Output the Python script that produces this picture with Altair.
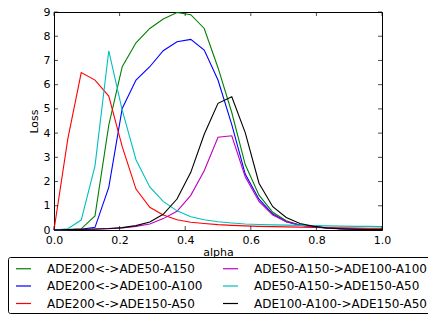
import altair as alt
import pandas as pd

alpha = [0.0, 0.042, 0.083, 0.125, 0.167, 0.208, 0.25, 0.292, 0.333, 0.375, 0.417, 0.458,
         0.5, 0.542, 0.583, 0.625, 0.667, 0.708, 0.75, 0.792, 0.833, 0.875, 0.917, 0.958, 1.0]

series_names = ["ADE200<->ADE50-A150", "ADE200<->ADE100-A100", "ADE200<->ADE150-A50",
                "ADE50-A150->ADE100-A100", "ADE50-A150->ADE150-A50", "ADE100-A100->ADE150-A50"]
series_colors = ["#008000", "#0000ff", "#ff0000", "#bf00bf", "#00bfbf", "#000000"]

green = [0.0, 0.02, 0.05, 0.58, 4.33, 6.74, 7.73, 8.32, 8.71, 8.98, 8.89, 8.32, 6.7, 4.85,
         2.7, 1.44, 0.73, 0.38, 0.2, 0.15, 0.08, 0.05, 0.04, 0.03, 0.03]
blue = [0.0, 0.02, 0.03, 0.11, 1.76, 5.02, 6.19, 6.74, 7.4, 7.77, 7.87, 7.43, 6.19, 4.35,
        2.31, 1.27, 0.66, 0.34, 0.2, 0.14, 0.08, 0.05, 0.04, 0.03, 0.03]
red = [0.0, 3.75, 6.5, 6.19, 5.53, 3.44, 1.69, 0.94, 0.62, 0.42, 0.32, 0.27, 0.22, 0.19,
       0.17, 0.15, 0.14, 0.13, 0.12, 0.11, 0.1, 0.09, 0.08, 0.07, 0.07]
magenta = [0.0, 0.01, 0.02, 0.03, 0.05, 0.08, 0.15, 0.25, 0.47, 0.77, 1.43, 2.45, 3.83, 3.89,
           2.2, 1.18, 0.62, 0.34, 0.2, 0.14, 0.07, 0.04, 0.03, 0.02, 0.02]
cyan = [0.0, 0.05, 0.41, 2.65, 7.4, 4.95, 2.9, 1.78, 1.18, 0.79, 0.55, 0.42, 0.34, 0.29,
        0.25, 0.23, 0.21, 0.2, 0.19, 0.18, 0.17, 0.16, 0.15, 0.15, 0.14]
black = [0.0, 0.02, 0.03, 0.04, 0.06, 0.1, 0.18, 0.33, 0.65, 1.28, 2.38, 3.95, 5.23, 5.5,
         4.02, 1.93, 0.96, 0.52, 0.27, 0.15, 0.08, 0.05, 0.03, 0.02, 0.02]

x_ticks = [0.0, 0.2, 0.4, 0.6, 0.8, 1.0]
y_ticks = [0, 1, 2, 3, 4, 5, 6, 7, 8, 9]

all_series = [green, blue, red, magenta, cyan, black]
rows = []
for order, (name, vals) in enumerate(zip(series_names, all_series)):
    for a, v in zip(alpha, vals):
        rows.append({"alpha": a, "Loss": v, "series": name, "order": order})
df = pd.DataFrame(rows)

W, H = 328, 218
FONT = "DejaVu Sans"

xscale = alt.Scale(domain=[0, 1], nice=False)
yscale = alt.Scale(domain=[0, 9], nice=False)

lines = alt.Chart(df).mark_line(strokeWidth=1.1).encode(
    x=alt.X("alpha:Q", scale=xscale, title="alpha",
            axis=alt.Axis(values=x_ticks, format=".1f", ticks=False, domain=True,
                          domainColor="black", domainWidth=1, grid=False,
                          labelOverlap=False, labelFlush=False,
                          labelPadding=4, titlePadding=1, labelFontSize=11, titleFontSize=11,
                          labelFont=FONT, titleFont=FONT, labelColor="black", titleColor="black",
                          titleFontWeight="normal")),
    y=alt.Y("Loss:Q", scale=yscale, title="Loss",
            axis=alt.Axis(values=y_ticks, format="d", ticks=False, domain=True,
                          domainColor="black", domainWidth=1, grid=False,
                          labelOverlap=False, labelFlush=False,
                          labelPadding=4, titlePadding=4, labelFontSize=11, titleFontSize=11,
                          labelFont=FONT, titleFont=FONT, labelColor="black", titleColor="black",
                          titleFontWeight="normal")),
    color=alt.Color("series:N", scale=alt.Scale(domain=series_names, range=series_colors),
                    legend=alt.Legend(title=None, orient="none", legendX=-46, legendY=245,
                                      columns=2, symbolType="stroke", symbolSize=225,
                                      symbolStrokeWidth=1.2, symbolOffset=4,
                                      labelFontSize=12, labelFont=FONT,
                                      labelColor="black", labelOffset=15, columnPadding=15,
                                      rowPadding=2.5, padding=3, strokeColor="black",
                                      fillColor="white", cornerRadius=2, labelLimit=300)),
    order=alt.Order("order:Q"),
    detail="series:N",
)

xt = pd.DataFrame({"t": x_ticks})
yt = pd.DataFrame({"t": y_ticks})

frame_top = alt.Axis(orient="top", labels=False, ticks=False, domain=True, domainColor="black",
                     domainWidth=1, grid=False, title=None)
frame_right = alt.Axis(orient="right", labels=False, ticks=False, domain=True, domainColor="black",
                       domainWidth=1, grid=False, title=None)

tick_bottom = alt.Chart(xt).mark_tick(orient="vertical", size=4, thickness=1, color="black").encode(
    x=alt.X("t:Q", scale=xscale, axis=None), y=alt.value(H - 2))
tick_top = alt.Chart(xt).mark_tick(orient="vertical", size=4, thickness=1, color="black").encode(
    x=alt.X("t:Q", scale=xscale, axis=frame_top), y=alt.value(2))
tick_left = alt.Chart(yt).mark_tick(orient="horizontal", size=4, thickness=1, color="black").encode(
    y=alt.Y("t:Q", scale=yscale, axis=None), x=alt.value(2))
tick_right = alt.Chart(yt).mark_tick(orient="horizontal", size=4, thickness=1, color="black").encode(
    y=alt.Y("t:Q", scale=yscale, axis=frame_right), x=alt.value(W - 2))

chart = alt.layer(lines, tick_bottom, tick_top, tick_left, tick_right).resolve_axis(
    x="independent", y="independent"
).properties(
    width=W, height=H,
    autosize=alt.AutoSizeParams(type="none"),
    padding={"left": 46, "top": 4, "right": 46, "bottom": 95},
).configure_view(strokeWidth=0).configure(background="white")

chart.save("out.html", embed_options={"renderer": "svg", "actions": False})
